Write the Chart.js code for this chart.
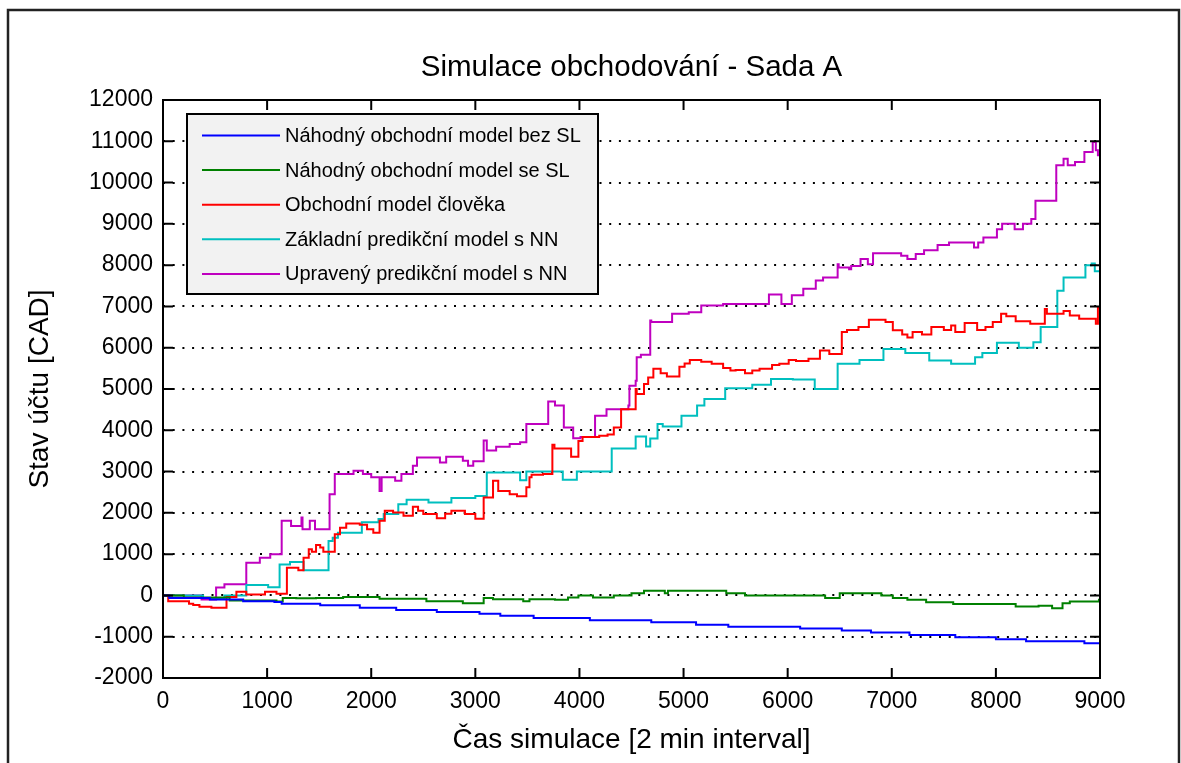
<!DOCTYPE html>
<html>
<head>
<meta charset="utf-8">
<title>Simulace obchodování - Sada A</title>
<script src="https://cdn.jsdelivr.net/npm/chart.js@4.4.1/dist/chart.umd.min.js"></script>
<style>
  body { margin: 0; background: #fff; }
  canvas { display: block; }
</style>
</head>
<body>
<canvas id="chartCanvas" width="1181" height="763"></canvas>
<script>
// tick labels
const xTicks = [0, 1000, 2000, 3000, 4000, 5000, 6000, 7000, 8000, 9000];
const yTicks = [-2000, -1000, 0, 1000, 2000, 3000, 4000, 5000, 6000, 7000, 8000, 9000, 10000, 11000, 12000];

const labels = [
  "Náhodný obchodní model bez SL",
  "Náhodný obchodní model se SL",
  "Obchodní model člověka",
  "Základní predikční model s NN",
  "Upravený predikční model s NN",
];

// each series: step start times and the account value from that time on
const blueX = [0, 60, 450, 770, 1070, 1140, 1510, 1890, 2240, 2630, 3040, 3240, 3560, 4100, 4690, 5120, 5430, 6120, 6520, 6800, 7170, 7610, 8000, 8290, 8850, 9000];
const blueY = [0, -60, -100, -140, -160, -200, -240, -300, -350, -400, -445, -490, -545, -600, -650, -710, -760, -800, -850, -900, -960, -1010, -1060, -1110, -1160, -1160];

const greenX = [0, 200, 640, 1090, 1150, 1280, 1470, 1730, 2080, 2530, 2880, 3080, 3170, 3460, 3520, 3765, 3890, 3990, 4130, 4330, 4500, 4620, 4820, 4850, 5410, 5590, 6360, 6500, 6900, 7010, 7150, 7330, 7590, 8190, 8410, 8540, 8640, 8710, 8990, 9000];
const greenY = [0, -50, -120, -150, -60, -70, -60, -40, -80, -140, -190, -60, -90, -140, -90, -105, -50, 0, -50, 0, 55, 115, 55, 115, 55, 0, -65, 55, 0, -65, -105, -165, -205, -270, -250, -310, -190, -145, -105, -105];

const redX = [0, 50, 250, 290, 350, 465, 610, 705, 800, 980, 1090, 1190, 1300, 1350, 1400, 1430, 1470, 1510, 1540, 1650, 1700, 1760, 1890, 1960, 2020, 2080, 2130, 2210, 2310, 2400, 2450, 2500, 2630, 2710, 2770, 2900, 3000, 3080, 3170, 3220, 3330, 3400, 3490, 3520, 3540, 3650, 3740, 3760, 3920, 3990, 4030, 4190, 4270, 4330, 4400, 4540, 4550, 4620, 4660, 4710, 4780, 4840, 4960, 5010, 5060, 5170, 5270, 5380, 5450, 5500, 5590, 5660, 5730, 5850, 5920, 6010, 6080, 6200, 6310, 6400, 6520, 6570, 6680, 6780, 6940, 7010, 7100, 7150, 7200, 7290, 7380, 7500, 7570, 7610, 7700, 7820, 7900, 7970, 8050, 8100, 8190, 8330, 8470, 8490, 8650, 8710, 8800, 8960, 8980, 9000];
const redY = [0, -140, -200, -230, -275, -300, -40, 90, 25, 90, 40, 670, 610, 915, 1120, 1060, 1220, 1160, 1060, 1480, 1640, 1740, 1710, 1600, 1520, 1810, 2050, 2010, 1930, 2150, 2050, 1970, 1870, 1980, 2050, 1970, 1860, 2370, 2780, 2530, 2450, 2400, 2620, 2860, 2920, 2940, 3650, 3560, 3360, 3740, 3840, 3870, 3900, 4070, 4510, 5000, 4880, 5120, 5280, 5490, 5380, 5300, 5540, 5620, 5700, 5660, 5610, 5510, 5450, 5460, 5380, 5450, 5490, 5580, 5610, 5700, 5680, 5730, 5930, 5850, 6380, 6430, 6500, 6680, 6620, 6420, 6320, 6250, 6380, 6320, 6500, 6430, 6540, 6380, 6600, 6430, 6500, 6620, 6820, 6760, 6640, 6580, 6940, 6820, 6890, 6780, 6700, 6580, 6970, 6970];

const cyanX = [0, 385, 590, 800, 1010, 1120, 1220, 1350, 1590, 1630, 1680, 1910, 2070, 2120, 2260, 2340, 2550, 2770, 3000, 3110, 3430, 3490, 3840, 3975, 4310, 4540, 4640, 4680, 4750, 4800, 4980, 5130, 5200, 5400, 5660, 5840, 6050, 6260, 6480, 6690, 6920, 7130, 7360, 7570, 7800, 7870, 8010, 8220, 8360, 8430, 8590, 8650, 8860, 8920, 8950, 9000];
const cyanY = [0, -60, 0, 250, 200, 750, 810, 610, 1320, 1400, 1520, 1770, 1850, 1970, 2210, 2320, 2250, 2360, 2410, 2980, 2790, 3000, 2800, 3000, 3560, 3850, 3610, 3800, 4150, 4090, 4350, 4600, 4760, 5020, 5100, 5240, 5230, 5000, 5610, 5700, 5970, 5870, 5690, 5610, 5770, 5870, 6120, 6000, 6130, 6500, 7380, 7700, 8000, 8040, 7850, 7850];

const magentaX = [0, 370, 510, 590, 800, 930, 1030, 1140, 1230, 1330, 1340, 1410, 1460, 1600, 1650, 1830, 1920, 2000, 2080, 2100, 2230, 2290, 2400, 2440, 2660, 2720, 2880, 2930, 2980, 3080, 3110, 3200, 3330, 3430, 3490, 3700, 3765, 3850, 3940, 4010, 4150, 4260, 4470, 4480, 4540, 4550, 4590, 4680, 4690, 4890, 5050, 5170, 5380, 5820, 5940, 6040, 6150, 6270, 6340, 6480, 6490, 6590, 6610, 6700, 6770, 6820, 7090, 7150, 7230, 7310, 7440, 7550, 7790, 7830, 7880, 8010, 8060, 8180, 8260, 8340, 8380, 8580, 8650, 8690, 8760, 8850, 8930, 8960, 8980, 9000];
const magentaY = [0, -100, 190, 270, 790, 915, 1000, 1810, 1680, 1890, 1600, 1810, 1600, 2450, 2940, 3020, 2940, 2860, 2530, 2860, 2780, 2940, 3140, 3340, 3220, 3360, 3260, 3140, 3250, 3750, 3510, 3600, 3670, 3710, 4150, 4700, 4600, 4070, 3810, 3840, 4350, 4510, 4600, 5080, 5200, 5770, 5830, 6660, 6620, 6820, 6860, 7020, 7060, 7290, 7060, 7270, 7430, 7630, 7700, 8020, 7940, 7900, 7980, 8150, 8020, 8290, 8230, 8150, 8270, 8360, 8490, 8550, 8430, 8550, 8670, 8870, 9000, 8870, 9000, 9120, 9560, 10420, 10580, 10420, 10500, 10740, 10980, 10780, 10660, 10660];

const FONT = "'Liberation Sans', Arial, Helvetica, sans-serif";

function points(xs, ys) {
  return xs.map((x, i) => ({ x: x, y: ys[i] }));
}

// outer figure frame
const framePlugin = {
  id: "frame",
  beforeDraw(chart) {
    const ctx = chart.ctx;
    ctx.save();
    ctx.fillStyle = "#fff";
    ctx.fillRect(0, 0, chart.width, chart.height);
    ctx.strokeStyle = "#222";
    ctx.lineWidth = 2.5;
    ctx.strokeRect(8, 10, 1171, 800);
    ctx.restore();
  },
};

// axes box with inward ticks on all four sides
const boxPlugin = {
  id: "box",
  afterDatasetsDraw(chart) {
    const ctx = chart.ctx;
    const a = chart.chartArea;
    const xs = chart.scales.x;
    const ys = chart.scales.y;
    const len = 10;
    ctx.save();
    ctx.strokeStyle = "#000";
    ctx.lineWidth = 2;
    ctx.beginPath();
    xTicks.forEach((v) => {
      const px = xs.getPixelForValue(v);
      ctx.moveTo(px, a.bottom);
      ctx.lineTo(px, a.bottom - len);
      ctx.moveTo(px, a.top);
      ctx.lineTo(px, a.top + len);
    });
    yTicks.forEach((v) => {
      const py = ys.getPixelForValue(v);
      ctx.moveTo(a.left, py);
      ctx.lineTo(a.left + len, py);
      ctx.moveTo(a.right, py);
      ctx.lineTo(a.right - len, py);
    });
    ctx.stroke();
    ctx.strokeRect(a.left, a.top, a.right - a.left, a.bottom - a.top);
    ctx.restore();
  },
};

// matlab style legend box in the upper left of the plot
const legendBoxPlugin = {
  id: "legendBox",
  afterDraw(chart) {
    const ctx = chart.ctx;
    const left = 187, top = 114, w = 411, h = 180;
    ctx.save();
    ctx.fillStyle = "#f2f2f2";
    ctx.fillRect(left, top, w, h);
    ctx.strokeStyle = "#000";
    ctx.lineWidth = 2;
    ctx.strokeRect(left, top, w, h);
    ctx.font = "20px " + FONT;
    ctx.textBaseline = "middle";
    chart.data.datasets.forEach((ds, i) => {
      const y = 135.5 + i * 34.6;
      ctx.strokeStyle = ds.borderColor;
      ctx.lineWidth = 2;
      ctx.beginPath();
      ctx.moveTo(202, y);
      ctx.lineTo(280, y);
      ctx.stroke();
      ctx.fillStyle = "#000";
      ctx.fillText(ds.label, 285, y + 1);
    });
    ctx.restore();
  },
};

Chart.defaults.color = "#000";
Chart.defaults.font.family = FONT;

const ctx = document.getElementById("chartCanvas").getContext("2d");

const chart = new Chart(ctx, {
  type: "line",
  data: {
    datasets: [
      { label: labels[0], data: points(blueX, blueY), borderColor: "#0000ff" },
      { label: labels[1], data: points(greenX, greenY), borderColor: "#008000" },
      { label: labels[2], data: points(redX, redY), borderColor: "#ff0000" },
      { label: labels[3], data: points(cyanX, cyanY), borderColor: "#00bfbf" },
      { label: labels[4], data: points(magentaX, magentaY), borderColor: "#bf00bf" },
    ].map((d) => Object.assign(d, {
      stepped: "before",
      borderWidth: 2,
      pointRadius: 0,
      fill: false,
      tension: 0,
    })),
  },
  options: {
    responsive: false,
    animation: false,
    layout: { padding: { left: 10, right: 81, top: 0, bottom: 0 } },
    plugins: {
      legend: { display: false },
      tooltip: { enabled: false },
      title: {
        display: true,
        fullSize: false,
        text: "Simulace obchodování - Sada A",
        color: "#000",
        font: { size: 29.5, weight: "normal", family: FONT },
        padding: { top: 50, bottom: 14.6 },
      },
    },
    scales: {
      x: {
        type: "linear",
        min: 0,
        max: 9000,
        afterBuildTicks: (scale) => {
          scale.ticks = xTicks.map((v) => ({ value: v }));
        },
        afterFit: (scale) => {
          scale.height = 85;
        },
        grid: { display: false, drawTicks: false },
        border: { display: false },
        ticks: {
          autoSkip: false,
          maxRotation: 0,
          padding: 10,
          color: "#000",
          font: { size: 23, family: FONT },
          callback: (v) => String(v),
        },
        title: {
          display: true,
          text: "Čas simulace [2 min interval]",
          color: "#000",
          font: { size: 28, family: FONT },
          padding: { top: 0, bottom: 6 },
        },
      },
      y: {
        min: -2000,
        max: 12000,
        afterBuildTicks: (scale) => {
          scale.ticks = yTicks.map((v) => ({ value: v }));
        },
        afterFit: (scale) => {
          scale.width = 153;
        },
        grid: { color: "#000", lineWidth: 2, drawTicks: false },
        border: { display: false, dash: [2, 7.7] },
        ticks: {
          autoSkip: false,
          padding: 10,
          color: "#000",
          font: { size: 23, family: FONT },
          callback: (v) => String(v),
        },
        title: {
          display: true,
          text: "Stav účtu [CAD]",
          color: "#000",
          font: { size: 28, family: FONT },
          padding: { top: 13, bottom: 0 },
        },
      },
    },
  },
  plugins: [framePlugin, boxPlugin, legendBoxPlugin],
});
</script>
</body>
</html>
